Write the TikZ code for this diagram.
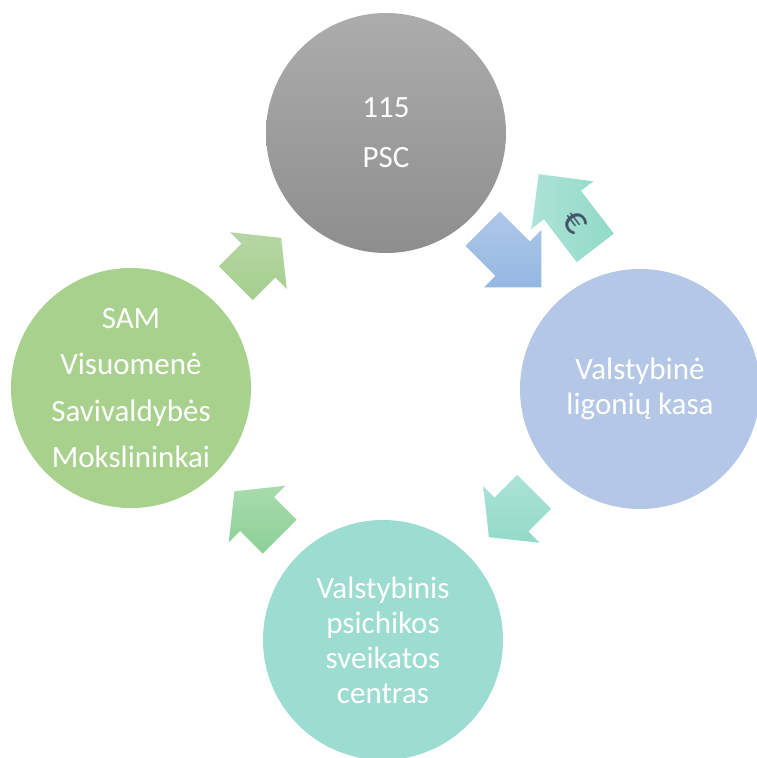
\documentclass[tikz,border=0pt]{standalone}
\usepackage{fontspec}
\setmainfont{Carlito}
\usetikzlibrary{calc}
\definecolor{grayTop}{RGB}{172,172,172}
\definecolor{grayBot}{RGB}{142,142,142}
\definecolor{blueC}{RGB}{180,199,231}
\definecolor{greenC}{RGB}{169,209,142}
\definecolor{tealC}{RGB}{157,220,208}
\definecolor{gaTop}{RGB}{182,214,164}
\definecolor{gaBot}{RGB}{164,207,140}
\definecolor{mtTop}{RGB}{168,219,174}
\definecolor{mtBot}{RGB}{140,208,150}
\definecolor{baTop}{RGB}{174,199,233}
\definecolor{baBot}{RGB}{148,184,225}
\definecolor{taTop}{RGB}{172,227,215}
\definecolor{taBot}{RGB}{146,218,200}
\definecolor{euroC}{RGB}{68,84,106}
\tikzset{
  circ/.style={circle, minimum size=240pt, inner sep=0pt, align=center,
    text=white, font=\fontsize{31}{35}\selectfont},
  pics/barrow/.style n args={2}{code={
    \pgfmathsetmacro\aL{#1}\pgfmathsetmacro\aH{#2}\pgfmathsetmacro\aK{0.5*min(#1,#2)}
    \path[pic actions] (-\aL/2,-0.3*\aH) -- (\aL/2-\aK,-0.3*\aH) -- (\aL/2-\aK,-0.5*\aH)
      -- (\aL/2,0) -- (\aL/2-\aK,0.5*\aH) -- (\aL/2-\aK,0.3*\aH) -- (-\aL/2,0.3*\aH) -- cycle;
  }}
}
\begin{document}
\begin{tikzpicture}[x=1pt,y=-1pt]
\useasboundingbox (0,0) rectangle (756,758);
% circles
\node[circ, top color=grayTop, bottom color=grayBot] (psc) at (386,133) {115\\[15pt]PSC};
\node[circ, fill=blueC] (vlk) at (640,389) {Valstybinė\\ligonių kasa};
\node[circ, fill=tealC] (vpsc) at (383,640) {Valstybinis\\psichikos\\sveikatos\\centras};
\node[circ, fill=greenC] (sam) at (131,388) {SAM\\[11.5pt]Visuomenė\\[11.5pt]Savivaldybės\\[11.5pt]Mokslininkai};
% cycle arrows
\pic[rotate=45, top color=gaTop, bottom color=gaBot] (a1) at ($(sam)!0.5!(psc)$) {barrow={64}{80}};
\pic[rotate=135, top color=mtTop, bottom color=mtBot] (a2) at ($(vpsc)!0.5!(sam)$) {barrow={64}{80}};
\pic[rotate=225, top color=taTop, bottom color=taBot] (a3) at ($(vlk)!0.5!(vpsc)$) {barrow={64}{80}};
% euro arrow and blue arrow
\pic[rotate=127.5, left color=taTop, right color=taBot] (a5) at (567,211) {barrow={93}{78}};
\node[rotate=-52.5, text=euroC, inner sep=0pt] (eur) at (575,222) {\fontsize{40}{44}\selectfont €};
\pic[rotate=-45, top color=baTop, bottom color=baBot] (a4) at (512,258) {barrow={83}{81}};
\end{tikzpicture}
\end{document}
